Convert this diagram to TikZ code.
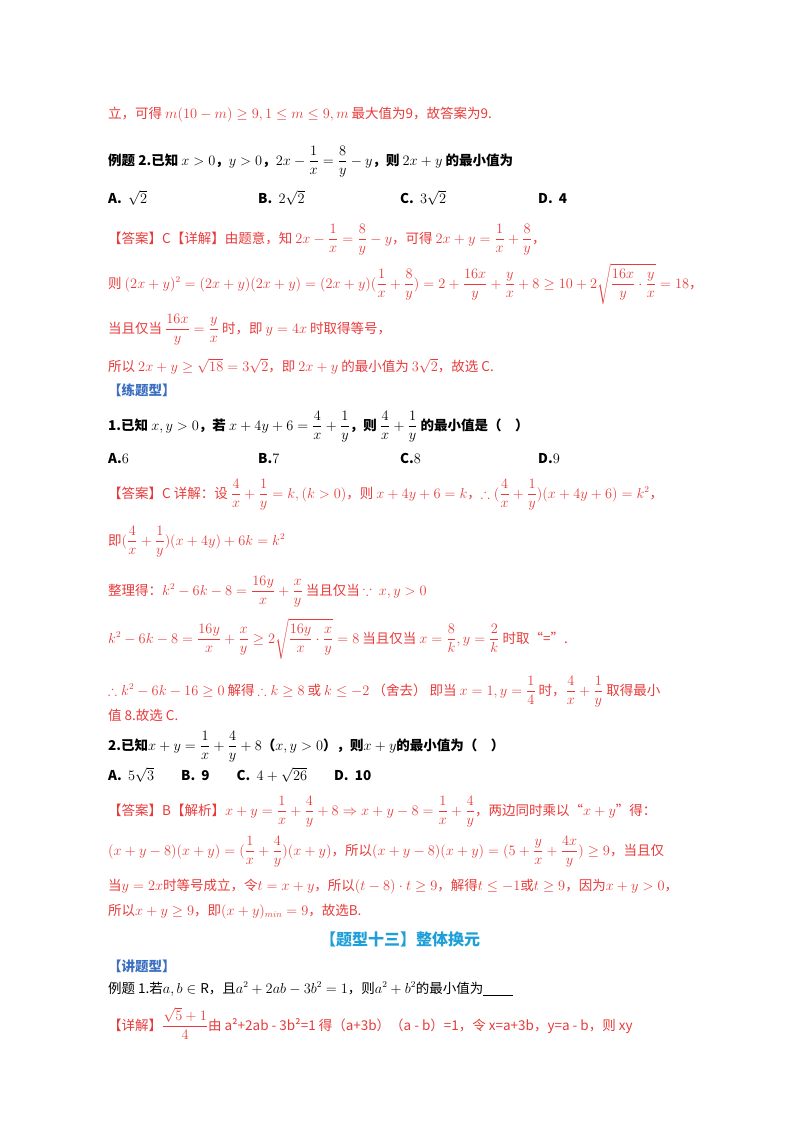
\documentclass[tikz,border=0pt]{standalone}
\usepackage{amsmath,amssymb}
\usepackage{fontspec}
\setmainfont{Noto Sans CJK SC}
\definecolor{rd}{HTML}{E83A3A}
\definecolor{bl}{HTML}{3C6FC0}
\definecolor{cy}{HTML}{1E9FD8}
\begin{document}
\begin{tikzpicture}[x=1pt,y=-1pt,
 txt/.style={anchor=base west,inner sep=0pt,font=\fontsize{13.5}{15}\selectfont},
 rtx/.style={txt,text=rd},
 bk/.style={txt,font=\fontsize{13.5}{15}\selectfont\bfseries},
 hd/.style={txt,text=bl,font=\fontsize{13.5}{15}\selectfont\bfseries}]
\useasboundingbox (0,0) rectangle (800,1132);
\node[rtx] (l1) at (108,118) {立，可得 $m(10-m)\ge 9,1\le m\le 9,m$ 最大值为9，故答案为9.};
\node[bk] (l2) at (108,165) {例题 2.已知 $x>0$，$y>0$，$2x-\dfrac{1}{x}=\dfrac{8}{y}-y$，则 $2x+y$ 的最小值为};
\node[bk] (l3a) at (108,203) {A.\ \ $\sqrt2$};
\node[bk] (l3b) at (258,203) {B.\ \ $2\sqrt2$};
\node[bk] (l3c) at (400,203) {C.\ \ $3\sqrt2$};
\node[bk] (l3d) at (538,203) {D.\ \ 4};
\node[rtx] (l4) at (108,243) {【答案】C【详解】由题意，知 $2x-\dfrac1x=\dfrac8y-y$，可得 $2x+y=\dfrac1x+\dfrac8y$，};
\node[rtx] (l5) at (108,288) {则 $(2x+y)^2=(2x+y)(2x+y)=(2x+y)(\dfrac1x+\dfrac8y)=2+\dfrac{16x}{y}+\dfrac yx+8\ge 10+2\sqrt{\dfrac{16x}{y}\cdot\dfrac yx}=18$，};
\node[rtx] (l6) at (108,333) {当且仅当 $\dfrac{16x}{y}=\dfrac yx$ 时，即 $y=4x$ 时取得等号，};
\node[rtx] (l7) at (108,371) {所以 $2x+y\ge\sqrt{18}=3\sqrt2$，即 $2x+y$ 的最小值为 $3\sqrt2$，故选 C.};
\node[hd] (l8) at (108,395) {【练题型】};
\node[bk] (l9) at (108,430) {1.已知 $x,y>0$，若 $x+4y+6=\dfrac4x+\dfrac1y$，则 $\dfrac4x+\dfrac1y$ 的最小值是（\quad）};
\node[bk] (l10a) at (108,463) {A.$6$};
\node[bk] (l10b) at (258,463) {B.$7$};
\node[bk] (l10c) at (400,463) {C.$8$};
\node[bk] (l10d) at (538,463) {D.$9$};
\node[rtx] (l11) at (108,498) {【答案】C 详解：设 $\dfrac4x+\dfrac1y=k,(k>0)$，则 $x+4y+6=k$，$\therefore(\dfrac4x+\dfrac1y)(x+4y+6)=k^2$，};
\node[rtx] (l12) at (108,545) {即$(\dfrac4x+\dfrac1y)(x+4y)+6k=k^2$};
\node[rtx] (l13) at (108,595) {整理得：$k^2-6k-8=\dfrac{16y}{x}+\dfrac xy$ 当且仅当 $\because\ x,y>0$};
\node[rtx] (l14) at (108,643) {$k^2-6k-8=\dfrac{16y}{x}+\dfrac xy\ge 2\sqrt{\dfrac{16y}{x}\cdot\dfrac xy}=8$ 当且仅当 $x=\dfrac8k,y=\dfrac2k$ 时取“=”.};
\node[rtx] (l15) at (108,695) {$\therefore k^2-6k-16\ge0$ 解得 $\therefore k\ge8$ 或 $k\le-2$ （舍去） 即当 $x=1,y=\dfrac14$ 时，$\dfrac4x+\dfrac1y$ 取得最小};
\node[rtx] (l16) at (108,720) {值 8.故选 C.};
\node[bk] (l17) at (108,750) {2.已知$x+y=\dfrac1x+\dfrac4y+8$（$x,y>0$），则$x+y$的最小值为（\quad）};
\node[bk] (l18) at (108,780) {A.\ \ $5\sqrt3$\qquad B.\ \ 9\qquad C.\ \ $4+\sqrt{26}$\qquad D.\ \ 10};
\node[rtx] (l19) at (108,815) {【答案】B【解析】$x+y=\dfrac1x+\dfrac4y+8\Rightarrow x+y-8=\dfrac1x+\dfrac4y$，两边同时乘以“$x+y$”得：};
\node[rtx] (l20) at (108,855) {$(x+y-8)(x+y)=(\dfrac1x+\dfrac4y)(x+y)$，所以$(x+y-8)(x+y)=(5+\dfrac yx+\dfrac{4x}{y})\ge9$，当且仅};
\node[rtx] (l21) at (108,890) {当$y=2x$时等号成立，令$t=x+y$，所以$(t-8)\cdot t\ge9$，解得$t\le-1$或$t\ge9$，因为$x+y>0$，};
\node[rtx] (l22) at (108,915) {所以$x+y\ge9$，即$(x+y)_{min}=9$，故选B.};
\node[anchor=base,inner sep=0pt,text=cy,font=\fontsize{16}{18}\selectfont\bfseries] (l23) at (400,945) {【题型十三】整体换元};
\node[hd] (l24) at (108,971) {【讲题型】};
\node[bk,font=\fontsize{13.5}{15}\selectfont] (l25) at (108,993) {例题 1.若$a,b\in\mathrm R$，且$a^2+2ab-3b^2=1$，则$a^2+b^2$的最小值为\underline{\hspace{2.2em}}};
\node[rtx] (l26) at (108,1030) {【详解】$\dfrac{\sqrt5+1}{4}$由 a²+2ab - 3b²=1 得（a+3b）（a - b）=1，令 x=a+3b，y=a - b，则 xy};
\end{tikzpicture}
\end{document}
